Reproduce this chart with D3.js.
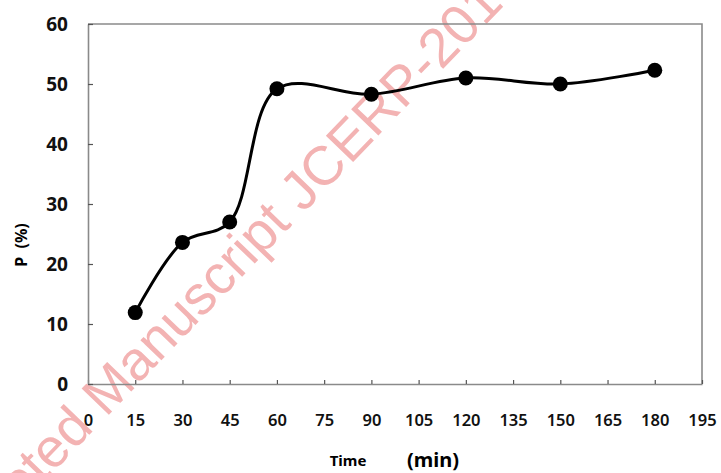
<!DOCTYPE html>
<html>
<head>
<meta charset="utf-8">
<script src="https://cdn.jsdelivr.net/npm/d3@7"></script>
<style>
  body { margin: 0; background: #fff; }
  svg { display: block; }
</style>
</head>
<body>
<div id="chart"></div>
<script>
// data
const times = [15, 30, 45, 60, 90, 120, 150, 180];
const pValues = [11.9, 23.6, 27.0, 49.2, 48.3, 51.0, 50.0, 52.3];
const xTicks = [0, 15, 30, 45, 60, 75, 90, 105, 120, 135, 150, 165, 180, 195];
const yTicks = [0, 10, 20, 30, 40, 50, 60];

const width = 721;
const height = 473;
const margin = {left: 88, right: 19, top: 24, bottom: 89};

const svg = d3.select("#chart")
  .append("svg")
  .attr("width", width)
  .attr("height", height);

const xScale = d3.scaleLinear()
  .domain([0, 195])
  .range([margin.left, width - margin.right]);

const yScale = d3.scaleLinear()
  .domain([0, 60])
  .range([height - margin.bottom, margin.top]);

// watermark, the "Accep" part falls off the left edge like in the original
const wm = svg.append("g")
  .attr("transform", "translate(42,484) rotate(-46)");
const wmText = wm.append("text")
  .attr("font-family", "Liberation Sans, Arial, sans-serif")
  .attr("font-size", 55)
  .attr("fill", "#f3b3b3")
  .text("Accepted Manuscript JCERP-2019");
const hidden = wmText.node().getSubStringLength(0, 5);
wmText.attr("x", -hidden);

// frame (top + right)
svg.append("path")
  .attr("d", `M${xScale(0)},${yScale(60)}H${xScale(195)}V${yScale(0)}`)
  .attr("fill", "none")
  .attr("stroke", "#8a8a8a")
  .attr("stroke-width", 1.6);

// x axis
const xAxis = svg.append("g")
  .attr("transform", `translate(0,${yScale(0)})`)
  .call(d3.axisBottom(xScale).tickValues(xTicks).tickSize(-4).tickPadding(30).tickSizeOuter(0));
xAxis.select(".domain").attr("stroke", "#8a8a8a").attr("stroke-width", 1.6);
xAxis.selectAll(".tick line").attr("stroke", "#555").attr("stroke-width", 1.2);
xAxis.selectAll("text")
  .attr("font-family", "Noto Sans, sans-serif")
  .attr("font-size", 16.5)
  .attr("font-weight", 600)
  .attr("fill", "#111");

// y axis
const yAxis = svg.append("g")
  .attr("transform", `translate(${xScale(0)},0)`)
  .call(d3.axisLeft(yScale).tickValues(yTicks).tickSize(-5).tickPadding(20).tickSizeOuter(0));
yAxis.select(".domain").attr("stroke", "#8a8a8a").attr("stroke-width", 1.6);
yAxis.selectAll(".tick line").attr("stroke", "#555").attr("stroke-width", 1.2);
yAxis.selectAll("text")
  .attr("font-family", "Noto Sans, sans-serif")
  .attr("font-size", 19)
  .attr("font-weight", 700)
  .attr("fill", "#111");

// axis titles
svg.append("text")
  .attr("x", 348).attr("y", 466)
  .attr("text-anchor", "middle")
  .attr("font-family", "Noto Sans, sans-serif")
  .attr("font-size", 15)
  .attr("font-weight", 700)
  .text("Time");
svg.append("text")
  .attr("x", 433).attr("y", 467)
  .attr("text-anchor", "middle")
  .attr("font-family", "Noto Sans, sans-serif")
  .attr("font-size", 20)
  .attr("font-weight", 700)
  .text("(min)");

svg.append("text")
  .attr("transform", "translate(27,245) rotate(-90)")
  .attr("text-anchor", "middle")
  .attr("font-family", "Noto Sans, sans-serif")
  .attr("font-size", 16)
  .attr("font-weight", 700)
  .attr("xml:space", "preserve")
  .text("P  (%)");

// line + markers
const points = times.map((t, i) => ({t: t, p: pValues[i]}));

const line = d3.line()
  .x(d => xScale(d.t))
  .y(d => yScale(d.p))
  .curve(d3.curveCatmullRom.alpha(0.5));

svg.append("path")
  .datum(points)
  .attr("d", line)
  .attr("fill", "none")
  .attr("stroke", "#000")
  .attr("stroke-width", 3);

svg.selectAll(".dot")
  .data(points)
  .enter()
  .append("circle")
    .attr("class", "dot")
    .attr("cx", d => xScale(d.t))
    .attr("cy", d => yScale(d.p))
    .attr("r", 7.5)
    .attr("fill", "#000");
</script>
</body>
</html>
